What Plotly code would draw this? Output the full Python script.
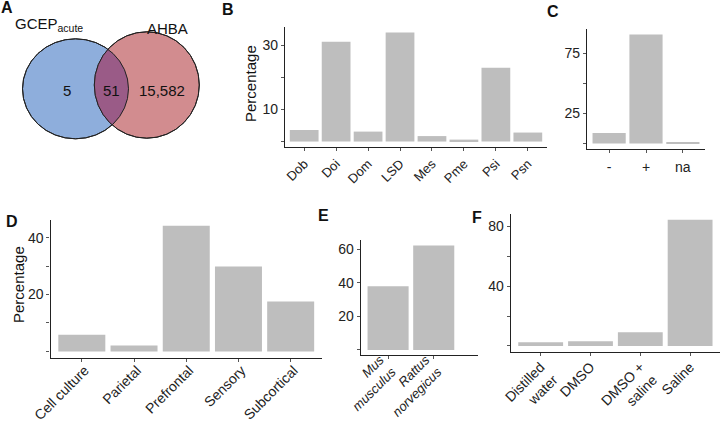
import numpy as np
import plotly.graph_objects as go

W, H = 720, 422
FONT = "Liberation Sans, Arial, sans-serif"
BAR = "#bebebe"
INK = "#222222"

# ---------------- data ----------------
venn_left_label = "GCEP<sub>acute</sub>"
venn_right_label = "AHBA"
venn_counts = ["5", "51", "15,582"]

b_cats = ["Dob", "Doi", "Dom", "LSD", "Mes", "Pme", "Psi", "Psn"]
b_vals = [3.6, 31.1, 3.1, 34.0, 1.7, 0.6, 23.0, 2.8]
b_labeled_ticks = [10, 30]
b_tick_step = 10

c_cats = ["-", "+", "na"]
c_vals = [8.7, 90.5, 0.8]
c_labeled_ticks = [25, 75]
c_tick_step = 25

d_cats = ["Cell culture", "Parietal", "Prefrontal", "Sensory", "Subcortical"]
d_vals = [5.9, 2.1, 44.2, 29.9, 17.6]
d_labeled_ticks = [20, 40]
d_tick_step = 10

e_cats = ["<i>Mus<br>musculus</i>", "<i>Rattus<br>norvegicus</i>"]
e_vals = [37.9, 62.1]
e_labeled_ticks = [20, 40, 60]
e_tick_step = 20

f_cats = ["Distilled<br>water", "DMSO", "DMSO +<br>saline", "Saline"]
f_vals = [2.5, 3.2, 9.2, 84.5]
f_labeled_ticks = [40, 80]
f_tick_step = 20

# ---------------- layout helpers ----------------
def px(x):
    return x / W

def py(y):
    return 1 - y / H

panels = [
    # cats, vals, labeled ticks, minor step, (left, right, top, bottom) px, font, x extra, standoff, shift, angle
    (b_cats, b_vals, b_labeled_ticks, b_tick_step, (285, 547, 27, 147), 13, 0.0, 0, 0, -45),
    (c_cats, c_vals, c_labeled_ticks, c_tick_step, (587, 705, 29, 149), 14, 0.0, 2, 0, 0),
    (d_cats, d_vals, d_labeled_ticks, d_tick_step, (50.5, 322, 219.5, 357.7), 14, 0.0, -5, 3, -45),
    (e_cats, e_vals, e_labeled_ticks, e_tick_step, (360.7, 478, 240.3, 355.2), 13, 0.37, -12, -8, -45),
    (f_cats, f_vals, f_labeled_ticks, f_tick_step, (510.8, 720, 213.5, 352.3), 14, 0.0, -3, 0, -45),
]

fig = go.Figure()
layout = dict(
    width=W, height=H,
    margin=dict(l=0, r=0, t=0, b=0),
    paper_bgcolor="white", plot_bgcolor="white",
    showlegend=False,
    bargap=0.1,
    font=dict(family=FONT, color=INK),
)

for i, (cats, vals, ticks, step, box, fs, extra, standoff, shift, angle) in enumerate(panels):
    n = i + 1
    xa = "x" if n == 1 else f"x{n}"
    ya = "y" if n == 1 else f"y{n}"
    xs = list(range(len(cats)))
    fig.add_trace(go.Bar(x=xs, y=vals, marker=dict(color=BAR, line=dict(width=0)),
                         xaxis=xa, yaxis=ya, width=0.9, hoverinfo="skip"))
    l, r, t, b = box
    m = max(vals)
    layout["xaxis" if n == 1 else f"xaxis{n}"] = dict(
        domain=[px(l), px(r)], anchor=ya, automargin=False,
        range=[-0.6, len(cats) - 1 + 0.6 + extra],
        tickmode="array", tickvals=xs, ticktext=cats, tickangle=angle,
        ticklabelstandoff=standoff, ticklabelshift=shift,
        showline=True, linecolor=INK, linewidth=1.2,
        ticks="outside", ticklen=3, tickcolor="#555", tickwidth=1,
        showgrid=False, zeroline=False, fixedrange=True,
        tickfont=dict(family=FONT, size=fs, color=INK),
    )
    layout["yaxis" if n == 1 else f"yaxis{n}"] = dict(
        domain=[py(b), py(t)], anchor=xa, automargin=False,
        range=[-0.05 * m, 1.05 * m],
        tickmode="array", tickvals=ticks,
        minor=dict(tick0=0, dtick=step, ticks="outside", ticklen=3, tickcolor="#555", tickwidth=1, showgrid=False),
        showline=True, linecolor=INK, linewidth=1.2,
        ticks="outside", ticklen=3, tickcolor="#555", tickwidth=1,
        showgrid=False, zeroline=False, fixedrange=True,
        tickfont=dict(family=FONT, size=14, color=INK),
    )

# ---------------- Venn (panel A) ----------------
blue = dict(cx=75.5, cy=88.8, rx=53.0, ry=50.0)
red = dict(cx=146.8, cy=85.0, rx=52.5, ry=53.2)

def ellipse_pts(e, n=720):
    a = np.linspace(0, 2 * np.pi, n, endpoint=False)
    return e["cx"] + e["rx"] * np.cos(a), e["cy"] + e["ry"] * np.sin(a)

def inside(e, x, y):
    return ((x - e["cx"]) / e["rx"]) ** 2 + ((y - e["cy"]) / e["ry"]) ** 2 <= 1.0

bx, by = ellipse_pts(blue)
rx_, ry_ = ellipse_pts(red)
lx = np.concatenate([bx[inside(red, bx, by)], rx_[inside(blue, rx_, ry_)]])
ly = np.concatenate([by[inside(red, bx, by)], ry_[inside(blue, rx_, ry_)]])
ang = np.arctan2(ly - ly.mean(), lx - lx.mean())
order = np.argsort(ang)
lx, ly = lx[order], ly[order]
lens_path = "M " + " L ".join(f"{px(a):.5f},{py(b):.5f}" for a, b in zip(lx, ly)) + " Z"

shapes = []
for e, col in ((blue, "#8eaedc"), (red, "#d28c8f")):
    shapes.append(dict(type="circle", xref="paper", yref="paper",
                       x0=px(e["cx"] - e["rx"]), x1=px(e["cx"] + e["rx"]),
                       y0=py(e["cy"] + e["ry"]), y1=py(e["cy"] - e["ry"]),
                       fillcolor=col, line=dict(color="#222222", width=1), layer="below"))
shapes.append(dict(type="path", xref="paper", yref="paper", path=lens_path,
                   fillcolor="#9a5b87", line=dict(width=0), layer="below"))
for e in (blue, red):
    shapes.append(dict(type="circle", xref="paper", yref="paper",
                       x0=px(e["cx"] - e["rx"]), x1=px(e["cx"] + e["rx"]),
                       y0=py(e["cy"] + e["ry"]), y1=py(e["cy"] - e["ry"]),
                       fillcolor="rgba(0,0,0,0)", line=dict(color="#222222", width=1), layer="below"))
layout["shapes"] = shapes

ann = []
def text(x, y, s, size, bold=False, angle=0, xanchor="center"):
    ann.append(dict(x=px(x), y=py(y), xref="paper", yref="paper", text=(f"<b>{s}</b>" if bold else s),
                    showarrow=False, xanchor=xanchor, yanchor="middle", textangle=angle,
                    font=dict(family=FONT, size=size, color="#111")))

# venn labels
text(13, 24, venn_left_label, 15, xanchor="left")
text(167.5, 28, venn_right_label, 15)
text(66.5, 91, venn_counts[0], 15)
text(111, 91, venn_counts[1], 15)
text(162, 91, venn_counts[2], 15)

# panel letters
for lab, x, y in (("A", 7, 8), ("B", 228, 9), ("C", 552.5, 12), ("D", 12, 221), ("E", 323, 215), ("F", 477, 217.5)):
    text(x, y, lab, 16, bold=True)

# y-axis titles
text(250, 84, "Percentage", 15, angle=-90)
text(18, 285, "Percentage", 15, angle=-90)
layout["annotations"] = ann

fig.update_layout(**layout)
fig.write_html("out.html")
